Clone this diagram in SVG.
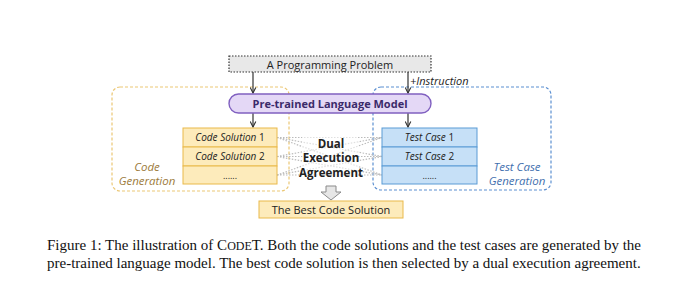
<svg xmlns="http://www.w3.org/2000/svg" width="680" height="295" viewBox="0 0 680 295">
<defs>
<marker id="ah" viewBox="0 0 10 10" refX="9" refY="5" markerWidth="7" markerHeight="7" orient="auto" markerUnits="userSpaceOnUse">
<path d="M1,1 L9,5 L1,9" fill="none" stroke="#333" stroke-width="1.6"/>
</marker>
<style>
.t{font-family:"Open Sans","Noto Sans",sans-serif;fill:#222}
.cell-y{fill:#fdebbb;stroke:#e9b94b;stroke-width:1}
.cell-b{fill:#c6e0f7;stroke:#5a9bd5;stroke-width:1}
.dot{stroke:#bbb;stroke-width:1.2;stroke-dasharray:1.5 1.5;fill:none}
.arr{stroke:#333;stroke-width:1.2;fill:none;marker-end:url(#ah)}
.cap{font-family:"Liberation Serif","Times New Roman",serif;font-size:15px;fill:#111}
</style>
</defs>
<rect width="680" height="295" fill="#fff"/>

<g id="code-generation-group">
<rect x="112" y="87" width="177" height="104" rx="8" fill="none" stroke="#ebc774" stroke-width="1.2" stroke-dasharray="3 2"/>
<text class="t" x="147" y="171" font-size="11.5" font-style="italic" text-anchor="middle" style="fill:#9c7b3c">Code</text>
<text class="t" x="147" y="185" font-size="11.5" font-style="italic" text-anchor="middle" style="fill:#9c7b3c">Generation</text>
</g>
<g id="test-case-generation-group">
<rect x="373" y="87" width="178" height="103" rx="8" fill="none" stroke="#5b8fd1" stroke-width="1.2" stroke-dasharray="3 2"/>
<text class="t" x="517" y="171" font-size="11.5" font-style="italic" text-anchor="middle" style="fill:#3f6fae">Test Case</text>
<text class="t" x="517" y="185" font-size="11.5" font-style="italic" text-anchor="middle" style="fill:#3f6fae">Generation</text>
</g>

<g id="connectors">
<line class="arr" x1="253" y1="72" x2="253" y2="93"/>
<line class="arr" x1="408" y1="72" x2="408" y2="93"/>
<line class="arr" x1="253" y1="113" x2="253" y2="127"/>
<line class="arr" x1="408" y1="113" x2="408" y2="127"/>
<text class="t" x="410" y="85" font-size="11" font-style="italic">+Instruction</text>
<line class="dot" x1="277" y1="137.5" x2="382" y2="137.5"/>
<line class="dot" x1="277" y1="137.5" x2="382" y2="156.5"/>
<line class="dot" x1="277" y1="137.5" x2="382" y2="175"/>
<line class="dot" x1="277" y1="156.5" x2="382" y2="137.5"/>
<line class="dot" x1="277" y1="156.5" x2="382" y2="156.5"/>
<line class="dot" x1="277" y1="156.5" x2="382" y2="175"/>
<line class="dot" x1="277" y1="175" x2="382" y2="137.5"/>
<line class="dot" x1="277" y1="175" x2="382" y2="156.5"/>
<line class="dot" x1="277" y1="175" x2="382" y2="175"/>
<path d="M326,186 L336,186 L336,192 L341,192 L331,200 L321,192 L326,192 Z" fill="#e6e6e6" stroke="#8a8a8a" stroke-width="1"/>
</g>

<g id="programming-problem">
<rect x="229" y="56" width="202" height="16" fill="#e8e8e8" stroke="#333" stroke-width="1.2" stroke-dasharray="1.5 1.5"/>
<text class="t" x="330" y="68.5" font-size="11" text-anchor="middle">A Programming Problem</text>
</g>

<g id="language-model">
<rect x="229" y="94" width="202" height="19" rx="9.5" fill="#e4d8f6" stroke="#8060c0" stroke-width="1.4"/>
<text class="t" x="330" y="107.5" font-size="11" font-weight="bold" text-anchor="middle" style="fill:#3b2a6a">Pre-trained Language Model</text>
</g>

<g id="dual-execution-agreement">
<rect x="302" y="134" width="56" height="46" fill="#fff" opacity="0.55"/>
<text class="t" x="331" y="147.5" font-size="11.5" font-weight="bold" text-anchor="middle">Dual</text>
<text class="t" x="331" y="162" font-size="11.5" font-weight="bold" text-anchor="middle">Execution</text>
<text class="t" x="331" y="176.5" font-size="11.5" font-weight="bold" text-anchor="middle">Agreement</text>
</g>

<g id="code-solutions">
<rect class="cell-y" x="183" y="128" width="94" height="19"/>
<rect class="cell-y" x="183" y="147" width="94" height="19"/>
<rect class="cell-y" x="183" y="166" width="94" height="18"/>
<text class="t" x="230" y="141" font-size="10" text-anchor="middle"><tspan font-style="italic">Code Solution</tspan> 1</text>
<text class="t" x="230" y="160" font-size="10" text-anchor="middle"><tspan font-style="italic">Code Solution</tspan> 2</text>
<text class="t" x="230" y="179" font-size="9" text-anchor="middle">......</text>
</g>

<g id="test-cases">
<rect class="cell-b" x="382" y="128" width="95" height="19"/>
<rect class="cell-b" x="382" y="147" width="95" height="19"/>
<rect class="cell-b" x="382" y="166" width="95" height="18"/>
<text class="t" x="429.5" y="141" font-size="10" text-anchor="middle"><tspan font-style="italic">Test Case</tspan> 1</text>
<text class="t" x="429.5" y="160" font-size="10" text-anchor="middle"><tspan font-style="italic">Test Case</tspan> 2</text>
<text class="t" x="429.5" y="179" font-size="9" text-anchor="middle">......</text>
</g>

<g id="best-code-solution">
<rect class="cell-y" x="259" y="201" width="144" height="17"/>
<text class="t" x="331" y="213.5" font-size="11" text-anchor="middle">The Best Code Solution</text>
</g>

<g id="caption">
<text class="cap" x="47" y="250">Figure 1: The illustration of C<tspan font-size="12">ODE</tspan>T. Both the code solutions and the test cases are generated by the</text>
<text class="cap" x="47" y="268">pre-trained language model. The best code solution is then selected by a dual execution agreement.</text>
</g>
</svg>
